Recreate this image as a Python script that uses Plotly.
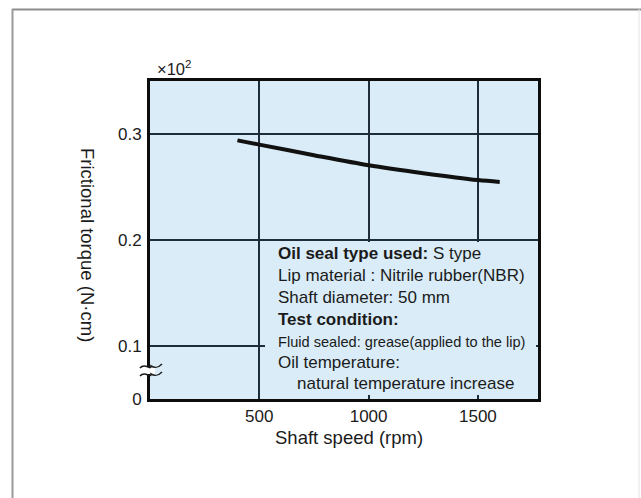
import plotly.graph_objects as go

# Frictional torque of an S-type oil seal vs. shaft speed (values in units of 10^2 N·cm)
shaft_speed = [400, 500, 750, 1000, 1250, 1500, 1600]
torque = [0.294, 0.290, 0.280, 0.2705, 0.263, 0.2565, 0.2548]

x_ticks = [500, 1000, 1500]
x_tick_text = ["500", "1000", "1500"]
# the lowest tick marks the broken axis and is labelled 0
y_ticks = [0.05, 0.1, 0.2, 0.3]
y_tick_text = ["0", "0.1", "0.2", "0.3"]

note_lines = [
    ("<b>Oil seal type used:</b> S type", 17, 276),
    ("Lip material : Nitrile rubber(NBR)", 17, 276),
    ("Shaft diameter: 50 mm", 17, 276),
    ("<b>Test condition:</b>", 17, 276),
    ("Fluid sealed: grease(applied to the lip)", 14.6, 276),
    ("Oil temperature:", 17, 276),
    ("natural temperature increase", 17, 295),
]
note_y = [253, 275, 297, 319, 342, 362, 383]

X_RANGE = [0, 1775]
Y_RANGE = [0.05, 0.35]

W, H = 641, 498
L, R, T, B = 150, 538, 81, 399
FONT = "Liberation Sans, Arial, sans-serif"
INK = "#1b1b1b"
PANEL = "#d9ecf7"


def px(x):
    return (x - L) / (R - L)


def py(y):
    return (B - y) / (B - T)


def dx(x):
    return X_RANGE[0] + px(x) * (X_RANGE[1] - X_RANGE[0])


def dy(y):
    return Y_RANGE[0] + py(y) * (Y_RANGE[1] - Y_RANGE[0])


fig = go.Figure()
fig.add_trace(go.Scatter(
    x=shaft_speed, y=torque, mode="lines",
    line=dict(color="#111111", width=4, shape="spline", smoothing=0.8),
    hoverinfo="skip", showlegend=False,
))

grid = "#1f2d3a"
fig.update_xaxes(
    range=X_RANGE, tickvals=x_ticks, ticktext=x_tick_text,
    showgrid=True, gridcolor=grid, gridwidth=1.5,
    showline=True, linecolor="#0d0d0d", linewidth=3, mirror=True,
    ticks="outside", ticklen=0, tickcolor="rgba(0,0,0,0)",
    tickfont=dict(family=FONT, size=17, color=INK), zeroline=False,
)
fig.update_yaxes(
    range=Y_RANGE, tickvals=y_ticks, ticktext=y_tick_text,
    showgrid=True, gridcolor=grid, gridwidth=1.5,
    showline=True, linecolor="#0d0d0d", linewidth=3, mirror=True,
    ticks="outside", ticklen=2, tickcolor="rgba(0,0,0,0)",
    tickfont=dict(family=FONT, size=17, color=INK), zeroline=False,
)

shapes = []
# panel holding the test conditions, drawn over the grid but under the curve
shapes.append(dict(type="rect", xref="x", yref="y", layer="between",
                   x0=dx(265), x1=dx(536), y0=dy(395), y1=dy(242),
                   fillcolor=PANEL, line=dict(width=0)))
# outer frame
shapes.append(dict(type="line", xref="paper", yref="paper",
                   x0=px(12), x1=px(641), y0=py(9.5), y1=py(9.5),
                   line=dict(color="#8c8c8c", width=2)))
shapes.append(dict(type="line", xref="paper", yref="paper",
                   x0=px(12.5), x1=px(12.5), y0=py(9), y1=py(498),
                   line=dict(color="#9a9a9a", width=2)))
shapes.append(dict(type="line", xref="paper", yref="paper",
                   x0=px(639), x1=px(639), y0=py(9), y1=py(498),
                   line=dict(color="#e2e2e2", width=1)))
# axis break mark on the value axis
shapes.append(dict(type="rect", xref="paper", yref="paper", layer="above",
                   x0=px(147), x1=px(155), y0=py(374), y1=py(367),
                   fillcolor="white", line=dict(width=0)))


def squiggle(y0):
    return "M {:.5f},{:.5f} C {:.5f},{:.5f} {:.5f},{:.5f} {:.5f},{:.5f} C {:.5f},{:.5f} {:.5f},{:.5f} {:.5f},{:.5f}".format(
        px(140), py(y0 + 2), px(145), py(y0 - 4), px(151), py(y0 + 5),
        px(151), py(y0), px(156), py(y0 + 3), px(159), py(y0 + 1), px(162), py(y0 - 2))


for y0 in (366, 374):
    shapes.append(dict(type="path", xref="paper", yref="paper", layer="above",
                       path=squiggle(y0), line=dict(color="#1a1a1a", width=1.6)))

annotations = []
for (txt, size, x0), yc in zip(note_lines, note_y):
    annotations.append(dict(text=txt, xref="paper", yref="paper", x=px(x0), y=py(yc),
                            xanchor="left", yanchor="middle", showarrow=False,
                            font=dict(family=FONT, size=size, color=INK)))
annotations.append(dict(text="×10<sup>2</sup>", xref="paper", yref="paper",
                        x=px(155), y=py(68), xanchor="left", yanchor="middle",
                        showarrow=False, font=dict(family=FONT, size=16.5, color=INK)))
annotations.append(dict(text="Shaft speed (rpm)", xref="paper", yref="paper",
                        x=px(349), y=py(437), xanchor="center", yanchor="middle",
                        showarrow=False, font=dict(family=FONT, size=18.5, color=INK)))
annotations.append(dict(text="Frictional torque (N·cm)", xref="paper", yref="paper",
                        x=px(88), y=py(245), xanchor="center", yanchor="middle",
                        textangle=90, showarrow=False,
                        font=dict(family=FONT, size=18.5, color=INK)))

fig.update_layout(
    width=W, height=H,
    margin=dict(l=L, r=W - R, t=T, b=H - B, pad=0),
    paper_bgcolor="white", plot_bgcolor=PANEL,
    shapes=shapes, annotations=annotations, showlegend=False,
)

fig.write_html("out.html", config={"displayModeBar": False})
